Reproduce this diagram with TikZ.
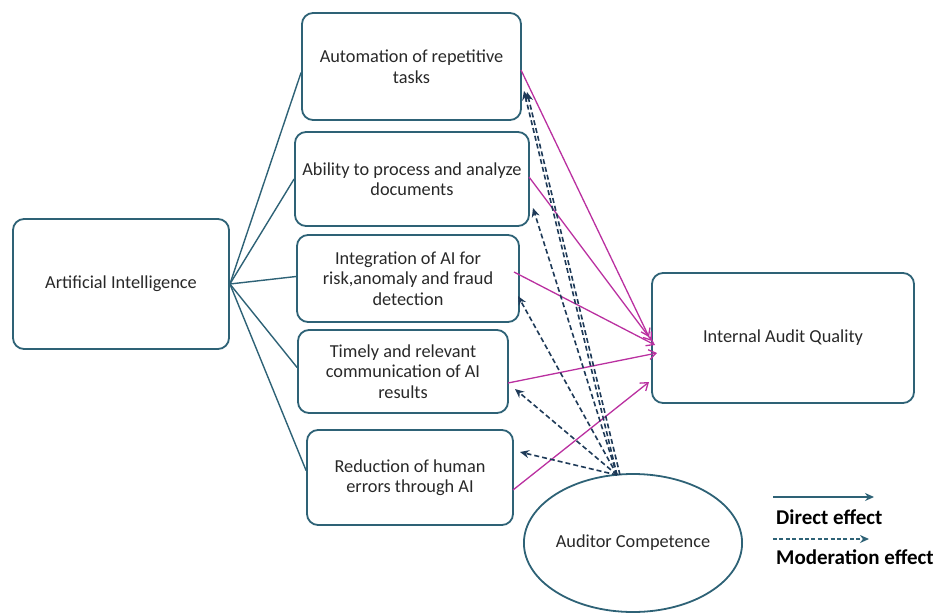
\documentclass[tikz,border=0pt]{standalone}
\usepackage{fontspec}
\setmainfont{Carlito}
\usetikzlibrary{shapes.geometric,arrows.meta}
\definecolor{boxc}{RGB}{46,98,118}
\definecolor{navy}{RGB}{30,58,88}
\definecolor{pinkc}{RGB}{186,48,160}
\definecolor{txt}{RGB}{40,40,40}
\tikzset{
  box/.style={draw=boxc, line width=1.8pt, rounded corners=11pt, align=center, text=txt, font=\fontsize{18.3}{20.5}\selectfont, inner sep=0pt},
  link/.style={draw=boxc, line width=1.4pt},
  direct/.style={draw=pinkc, line width=1.3pt, -{Straight Barb[length=7pt,width=10pt]}},
  moder/.style={draw=navy, line width=1.6pt, dash pattern=on 5pt off 3pt, -{Stealth[length=9pt,width=8pt]}},
  legtxt/.style={text=black, font=\fontsize{21}{23}\selectfont\bfseries, anchor=west, inner sep=0pt}
}
\begin{document}
\begin{tikzpicture}[x=1pt,y=-1pt]
\useasboundingbox (0,0) rectangle (937,613);
\node[box, minimum width=216pt, minimum height=130pt] (ai) at (121,284) {Artificial Intelligence};
\node[box, minimum width=219pt, minimum height=107pt] (auto) at (411.5,66.5) {Automation of repetitive\\tasks};
\node[box, minimum width=234pt, minimum height=94pt] (abil) at (412,179) {Ability to process and analyze\\documents};
\node[box, minimum width=222pt, minimum height=87pt] (integ) at (408,278.5) {Integration of AI for\\risk,anomaly and fraud\\detection};
\node[box, minimum width=210pt, minimum height=83pt] (timely) at (403,371.5) {Timely and relevant\\communication of AI\\results};
\node[box, minimum width=206pt, minimum height=95pt] (reduc) at (410,477.5) {Reduction of human\\errors through AI};
\node[box, minimum width=262pt, minimum height=130pt] (iaq) at (783,338) {Internal Audit Quality};
\node[box, ellipse, minimum width=212pt, minimum height=138pt] (ac) at (633,543) {Auditor Competence};

% AI links
\draw[link] (ai.east) -- ([yshift=-6pt]auto.west);
\draw[link] (ai.east) -- (abil.west);
\draw[link] (ai.east) -- ([yshift=2pt]integ.west);
\draw[link] (ai.east) -- ([yshift=4pt]timely.west);
\draw[link] (ai.east) -- ([yshift=7pt]reduc.west);

% coordinates
\coordinate (s1) at (521,70);
\coordinate (s2) at (529,177);
\coordinate (s3) at (514,272);
\coordinate (s4) at (508,383);
\coordinate (s5) at (513,490);
\coordinate (e1) at (649,337);
\coordinate (e2) at (652,341);
\coordinate (e3) at (655,345);
\coordinate (e4) at (657,353);
\coordinate (e5) at (649,382);
\coordinate (m0) at (617,475);
\coordinate (m0b) at (620,475);
\coordinate (m1) at (524,91);
\coordinate (m1b) at (527,92);
\coordinate (m2) at (533,208);
\coordinate (m3) at (518,296);
\coordinate (m4) at (515,389);
\coordinate (m5) at (520,452);

% direct (pink)
\draw[direct] (s1) -- (e1);
\draw[direct] (s2) -- (e2);
\draw[direct] (s3) -- (e3);
\draw[direct] (s4) -- (e4);
\draw[direct] (s5) -- (e5);

% moderation (dashed)
\draw[moder] (m0) -- (m1);
\draw[moder] (m0b) -- (m1b);
\draw[moder] (m0) -- (m2);
\draw[moder] (m0) -- (m3);
\draw[moder] (m0) -- (m4);
\draw[moder] (m0) -- (m5);

% legend
\coordinate (l1a) at (773,497);
\coordinate (l1b) at (874,497);
\coordinate (l2a) at (773,539);
\coordinate (l2b) at (869,539);
\draw[draw=boxc, line width=1.8pt, -{Stealth[length=9pt,width=8pt]}] (l1a) -- (l1b);
\draw[draw=boxc, line width=1.6pt, dash pattern=on 4pt off 2.4pt, -{Stealth[length=9pt,width=8pt]}] (l2a) -- (l2b);
\node[legtxt] (lg1) at (776,517) {Direct effect};
\node[legtxt] (lg2) at (776,557) {Moderation effect};
\end{tikzpicture}
\end{document}
